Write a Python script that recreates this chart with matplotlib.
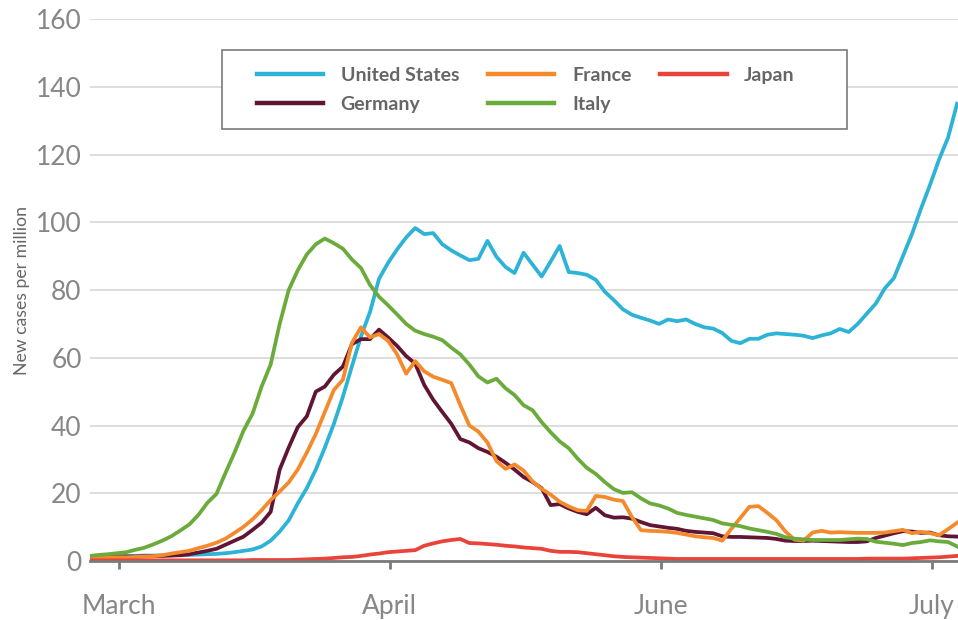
import matplotlib
matplotlib.use("Agg")
import matplotlib.pyplot as plt
from matplotlib.patches import Rectangle

plt.rcParams['font.family'] = ['Lato', 'DejaVu Sans']

# day index since start of series
days = list(range(97))
tick_pos = [3.2, 33.2, 63.2, 93.2]
tick_labels = ['March', 'April', 'June', 'July']

united_states = [
    1.5, 1.5, 1.5, 1.5, 1.5, 1.5, 1.6, 1.6, 1.7, 1.7,
    1.8, 1.8, 1.9, 2.0, 2.1, 2.3, 2.6, 3.0, 3.4, 4.3,
    6.0, 8.7, 12.0, 17.0, 21.5, 27.0, 33.5, 40.5, 48.5, 57.5,
    66.3, 73.5, 83.3, 88.0, 92.0, 95.5, 98.3, 96.5, 96.8, 93.5,
    91.7, 90.2, 88.8, 89.2, 94.5, 89.8, 86.8, 85.0, 91.0, 87.5,
    84.0, 88.4, 93.0, 85.3, 85.0, 84.5, 83.0, 79.5, 77.0, 74.3,
    72.7, 71.8, 71.0, 70.0, 71.3, 70.8, 71.3, 70.0, 69.0, 68.6,
    67.3, 65.0, 64.3, 65.6, 65.6, 66.8, 67.2, 67.0, 66.8, 66.5,
    65.8, 66.6, 67.2, 68.5, 67.6, 70.0, 73.0, 76.0, 80.5, 83.5,
    90.0, 96.5, 104.0, 111.0, 118.5, 125.0, 135.0,
]
germany = [
    1.3, 1.3, 1.3, 1.3, 1.3, 1.3, 1.4, 1.4, 1.5, 1.6,
    1.7, 2.0, 2.5, 3.0, 3.6, 4.8, 6.0, 7.2, 9.2, 11.3,
    14.5, 27.0, 33.5, 39.5, 42.7, 50.0, 51.5, 55.0, 57.4, 64.0,
    65.5, 65.5, 68.3, 66.0, 63.5, 60.5, 58.3, 52.0, 47.6, 44.0,
    40.5, 36.0, 35.0, 33.3, 32.2, 30.8, 29.0, 27.0, 24.8, 23.3,
    21.5, 16.5, 16.8, 15.5, 14.5, 13.8, 15.7, 13.5, 12.8, 12.9,
    12.5, 11.5, 10.6, 10.2, 9.8, 9.5, 8.9, 8.6, 8.4, 8.2,
    7.3, 7.1, 7.1, 7.0, 6.9, 6.8, 6.5, 6.0, 5.9, 5.9,
    6.0, 5.9, 5.8, 5.7, 5.6, 5.6, 5.8, 6.8, 7.5, 8.2,
    8.8, 8.7, 8.3, 8.4, 7.6, 7.3, 7.2,
]
france = [
    1.0, 1.0, 1.0, 1.1, 1.1, 1.2, 1.3, 1.4, 1.7, 2.2,
    2.6, 3.0, 3.8, 4.5, 5.4, 6.6, 8.3, 10.1, 12.3, 15.0,
    18.0, 20.5, 23.2, 27.0, 32.0, 37.5, 44.0, 50.5, 53.5, 64.4,
    69.0, 66.0, 67.0, 65.0, 61.0, 55.3, 59.0, 56.0, 54.4, 53.5,
    52.5, 46.0, 40.0, 38.2, 35.0, 29.5, 27.2, 28.5, 26.7, 23.5,
    21.3, 19.6, 17.5, 16.1, 15.0, 14.8, 19.2, 18.9, 18.1, 17.7,
    13.0, 9.1, 8.9, 8.8, 8.6, 8.3, 7.8, 7.3, 7.0, 6.8,
    6.0, 9.5, 12.7, 16.0, 16.2, 14.2, 12.0, 8.7, 6.3, 6.0,
    8.4, 8.9, 8.4, 8.5, 8.4, 8.3, 8.3, 8.3, 8.4, 8.8,
    9.2, 8.2, 8.6, 8.2, 7.6, 9.4, 11.3,
]
italy = [
    1.5, 1.8, 2.0, 2.3, 2.6, 3.3, 3.9, 4.9, 6.0, 7.3,
    9.0, 10.8, 13.6, 17.2, 19.8, 26.0, 32.0, 38.5, 43.5, 51.5,
    58.0, 70.0, 80.0, 85.8, 90.5, 93.5, 95.2, 93.8, 92.2, 89.0,
    86.5, 81.5, 78.0, 75.5, 72.8, 70.0, 68.0, 67.0, 66.2, 65.2,
    63.0, 61.0, 58.0, 54.5, 52.7, 53.8, 51.0, 49.0, 46.0, 44.5,
    41.0, 38.0, 35.3, 33.3, 30.2, 27.5, 25.7, 23.3, 21.2, 20.1,
    20.3, 18.5, 17.0, 16.4, 15.5, 14.2, 13.6, 13.1, 12.6, 12.1,
    11.1, 10.7, 10.3, 9.6, 9.1, 8.6, 8.0, 7.0, 6.6, 6.4,
    6.2, 6.2, 6.2, 6.2, 6.4, 6.6, 6.5, 5.7, 5.4, 5.1,
    4.7, 5.3, 5.6, 6.1, 5.8, 5.6, 4.3,
]
japan = [
    0.2, 0.2, 0.2, 0.2, 0.2, 0.2, 0.2, 0.2, 0.2, 0.2,
    0.2, 0.2, 0.2, 0.2, 0.2, 0.2, 0.2, 0.2, 0.3, 0.3,
    0.3, 0.3, 0.3, 0.4, 0.5, 0.6, 0.7, 0.9, 1.1, 1.2,
    1.5, 1.9, 2.2, 2.6, 2.8, 3.0, 3.2, 4.5, 5.2, 5.8,
    6.2, 6.5, 5.3, 5.2, 5.0, 4.8, 4.5, 4.3, 4.0, 3.8,
    3.6, 3.0, 2.7, 2.7, 2.6, 2.3, 2.0, 1.7, 1.4, 1.2,
    1.1, 1.0, 0.9, 0.8, 0.7, 0.6, 0.6, 0.6, 0.6, 0.6,
    0.6, 0.6, 0.6, 0.6, 0.6, 0.6, 0.6, 0.6, 0.6, 0.6,
    0.6, 0.6, 0.6, 0.6, 0.6, 0.6, 0.7, 0.7, 0.7, 0.7,
    0.7, 0.8, 0.9, 1.0, 1.1, 1.3, 1.5,
]

series = [
    ('United States', united_states, '#2db3d5'),
    ('Germany', germany, '#5f1533'),
    ('France', france, '#f58a2c'),
    ('Italy', italy, '#6aab3c'),
    ('Japan', japan, '#ea433a'),
]

fig = plt.figure(figsize=(9.58, 6.2), dpi=100)
ax = fig.add_axes([90 / 958, 59 / 620, 868 / 958, 542 / 620])

for name, values, color in series:
    ax.plot(days, values, color=color, lw=2.7, label=name)

ax.set_xlim(0, 96.1)
ax.set_ylim(0, 160)
ax.set_yticks(range(0, 161, 20))
ax.set_xticks(tick_pos)
ax.set_xticklabels(tick_labels)

ax.grid(axis='y', color='#dadada', lw=1.3)
ax.set_axisbelow(True)
for side in ['top', 'right', 'left']:
    ax.spines[side].set_visible(False)
ax.spines['bottom'].set_color('#7a7a7a')
ax.spines['bottom'].set_linewidth(2)
ax.spines['bottom'].set_zorder(5)

ax.tick_params(axis='y', length=0, pad=6, labelsize=19, labelcolor='#878787')
ax.tick_params(axis='x', length=5.5, width=2, color='#7a7a7a', pad=18,
               labelsize=19, labelcolor='#878787')

ax.set_ylabel('New cases per million', fontsize=12.7, color='#666666', labelpad=4)

# legend box drawn separately so its size matches the original
ax.add_patch(Rectangle(((222 - 90) / 868, (561 - 129) / 542), 625 / 868, 79 / 542,
                       transform=ax.transAxes, facecolor='white', edgecolor='#7a7a7a',
                       lw=1.2, zorder=6))
leg = ax.legend(ncol=3, loc='upper left', bbox_to_anchor=((257 - 90) / 868, (561 - 67) / 542),
                frameon=False, handlelength=3.4, handletextpad=0.9,
                columnspacing=1.5, labelspacing=0.6, borderpad=0, borderaxespad=0,
                prop={'family': 'Lato', 'weight': 'bold', 'size': 14})
leg.set_zorder(7)
for txt in leg.get_texts():
    txt.set_color('#666666')
for line in leg.get_lines():
    line.set_linewidth(3.2)

fig.savefig('out.png', dpi=100)
